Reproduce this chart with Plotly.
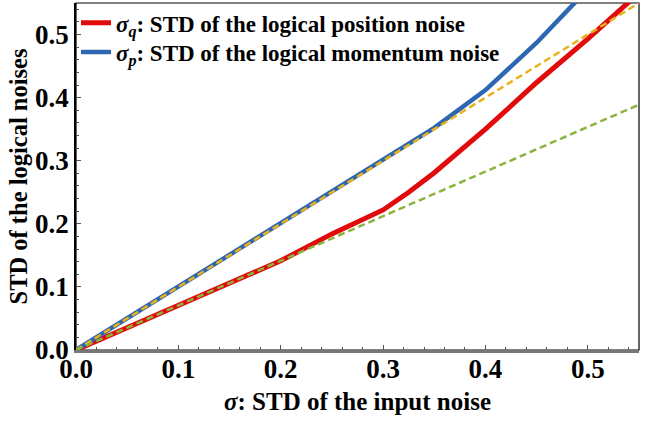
import numpy as np
import plotly.graph_objects as go

# data
sigma = [0.0, 0.05, 0.1, 0.15, 0.2, 0.25, 0.3, 0.325, 0.35, 0.4, 0.45, 0.5, 0.55]
sigma_q = [0.0, 0.0354, 0.0707, 0.106, 0.1414, 0.184, 0.222, 0.250, 0.281, 0.350, 0.424, 0.493, 0.566]
sigma_p = [0.0, 0.05, 0.10, 0.15, 0.20, 0.25, 0.30, 0.325, 0.352, 0.412, 0.487, 0.572, 0.66]
ref_x = [0.0, 0.55]
ref_p = [0.0, 0.55]
ref_q = [0.0, 0.3889]

FONT = "Liberation Serif, Times New Roman, serif"
RED = "#E10B0B"
BLUE = "#2E67B1"
YEL = "#E9B21C"
GRN = "#8CB43C"

fig = go.Figure()
fig.add_trace(go.Scatter(x=sigma, y=sigma_q, mode="lines", line=dict(color=RED, width=5),
                         legend="legend",
                         name="<b><i>σ</i><sub><i>q</i></sub>: STD of the logical position noise</b>"))
fig.add_trace(go.Scatter(x=sigma, y=sigma_p, mode="lines", line=dict(color=BLUE, width=4.5),
                         legend="legend2",
                         name="<b><i>σ</i><sub><i>p</i></sub>: STD of the logical momentum noise</b>"))
fig.add_trace(go.Scatter(x=ref_x, y=ref_p, mode="lines", showlegend=False,
                         line=dict(color=YEL, width=2.5, dash="7px,4px")))
fig.add_trace(go.Scatter(x=ref_x, y=ref_q, mode="lines", showlegend=False,
                         line=dict(color=GRN, width=2.5, dash="7px,4px")))

fig.add_shape(type="rect", xref="paper", yref="paper", x0=0, x1=1, y0=0, y1=1,
              line=dict(color="black", width=1.2), layer="below")

axis_common = dict(
    ticks="inside", ticklen=5, tickwidth=1.2, tickcolor="#555",
    showgrid=False, zeroline=False, showline=True,
    tickfont=dict(family=FONT, size=27, color="black", weight="bold"),
    tickformat=".1f", dtick=0.1, tick0=0,
    minor=dict(ticks="inside", ticklen=3, dtick=0.02, tickcolor="#555", tickwidth=1),
)

legend_common = dict(xanchor="left", yanchor="middle", bgcolor="rgba(0,0,0,0)",
                     itemwidth=30, font=dict(family=FONT, size=23, color="black"))

fig.update_layout(
    width=665, height=424,
    margin=dict(l=76, r=26, t=2, b=74),
    paper_bgcolor="white", plot_bgcolor="white",
    font=dict(family=FONT, color="black"),
    xaxis=dict(range=[0, 0.55], linecolor="#777", linewidth=2.5, ticklabelstandoff=-7,
               title=dict(text="<b><i>σ</i>: STD of the input noise</b>",
                          font=dict(family=FONT, size=25), standoff=10),
               **axis_common),
    yaxis=dict(range=[0, 0.55], linecolor="black", linewidth=1.5,
               title=dict(text="<b>STD of the logical noises</b>",
                          font=dict(family=FONT, size=24.5), standoff=1),
               **axis_common),
    legend=dict(x=0.0, y=0.94, **legend_common),
    legend2=dict(x=0.0, y=0.856, **legend_common),
)

fig.write_html("out.html")
